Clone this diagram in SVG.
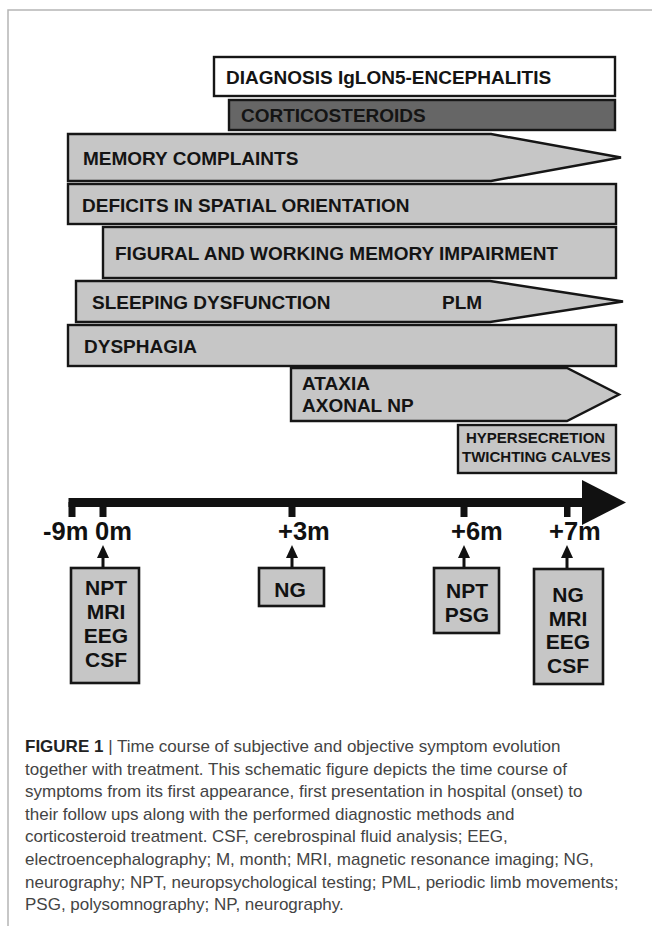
<svg xmlns="http://www.w3.org/2000/svg" width="652" height="926" viewBox="0 0 652 926">
<defs>
<style>
.bar{fill:#c6c6c6;stroke:#161616;stroke-width:2.4}
.lbl{font-family:"Liberation Sans",Arial,sans-serif;font-weight:bold;font-size:19px;fill:#141414}
.sm{font-family:"Liberation Sans",Arial,sans-serif;font-weight:bold;font-size:15px;fill:#141414}
.tl{font-family:"Liberation Sans",Arial,sans-serif;font-weight:bold;font-size:25.5px;fill:#111}
.box{fill:#c6c6c6;stroke:#161616;stroke-width:2.6}
.bt{font-family:"Liberation Sans",Arial,sans-serif;font-weight:bold;font-size:21px;fill:#111;text-anchor:middle}
.cap{font-family:"Liberation Sans",Arial,sans-serif;font-size:17px;fill:#444}
.tick{fill:#111}
</style>
<marker id="ah" viewBox="0 0 13 12" refX="8" refY="6" markerWidth="13" markerHeight="12" orient="auto" markerUnits="userSpaceOnUse">
<path d="M0,0 L13,6 L0,12 z" fill="#111"/>
</marker>
</defs>
<rect width="652" height="926" fill="#fff"/>
<path d="M8,926 V10 H652" fill="none" stroke="#b5b5b5" stroke-width="1.5"/>

<g id="diagnosis"><rect x="214" y="57" width="401" height="39" fill="#fff" stroke="#161616" stroke-width="2.4"/><text class="lbl" x="226" y="83.5">DIAGNOSIS IgLON5-ENCEPHALITIS</text></g>
<g id="corticosteroids"><rect x="229" y="100" width="386" height="30" fill="#666" stroke="#161616" stroke-width="2.4"/><text class="lbl" x="241" y="122">CORTICOSTEROIDS</text></g>
<g id="memory"><polygon class="bar" points="68,134 491,134 621,157.5 491,181 68,181"/><text class="lbl" x="83" y="165">MEMORY COMPLAINTS</text></g>
<g id="spatial"><rect class="bar" x="68" y="184" width="548" height="40"/><text class="lbl" x="82" y="212">DEFICITS IN SPATIAL ORIENTATION</text></g>
<g id="figural"><rect class="bar" x="103" y="227" width="513" height="51"/><text class="lbl" x="115" y="260">FIGURAL AND WORKING MEMORY IMPAIRMENT</text></g>
<g id="sleeping"><polygon class="bar" points="76,281 490,281 623,301.5 490,322 76,322"/><text class="lbl" x="92" y="309">SLEEPING DYSFUNCTION</text><text class="lbl" x="442" y="309">PLM</text></g>
<g id="dysphagia"><rect class="bar" x="68" y="325" width="548" height="41"/><text class="lbl" x="84" y="353">DYSPHAGIA</text></g>
<g id="ataxia"><polygon class="bar" points="291,368 567,368 619,394.5 567,421 291,421"/><text class="lbl" x="302" y="390">ATAXIA</text><text class="lbl" x="302" y="412">AXONAL NP</text></g>
<g id="hypersecretion"><rect class="bar" x="458" y="425" width="158" height="48"/><text class="sm" x="466" y="443">HYPERSECRETION</text><text class="sm" x="462" y="462">TWICHTING CALVES</text></g>

<g id="timeline">
<rect x="68.5" y="498" width="515" height="9" fill="#111"/>
<polygon points="582,480 626,502.5 582,525" fill="#111"/>
<rect class="tick" x="68.5" y="502" width="7" height="15"/>
<rect class="tick" x="99.5" y="502" width="7" height="15"/>
<rect class="tick" x="288.5" y="502" width="7" height="15"/>
<rect class="tick" x="460.5" y="502" width="7" height="15"/>
<rect class="tick" x="564" y="502" width="6.5" height="15"/>
<text class="tl" x="43" y="540">-9m</text>
<text class="tl" x="95" y="540">0m</text>
<text class="tl" x="278" y="540">+3m</text>
<text class="tl" x="451" y="540">+6m</text>
<text class="tl" x="549" y="540">+7m</text>
</g>

<g id="connectors" stroke="#111" stroke-width="3" fill="none">
<line x1="103" y1="568" x2="103" y2="550" marker-end="url(#ah)"/>
<line x1="292" y1="568" x2="292" y2="550" marker-end="url(#ah)"/>
<line x1="464" y1="568" x2="464" y2="550" marker-end="url(#ah)"/>
<line x1="567" y1="569" x2="567" y2="550" marker-end="url(#ah)"/>
</g>

<g id="box-0m"><rect class="box" x="71" y="568" width="68" height="115"/><text class="bt" x="106" y="595">NPT</text><text class="bt" x="106" y="619">MRI</text><text class="bt" x="106" y="643">EEG</text><text class="bt" x="106" y="667">CSF</text></g>
<g id="box-3m"><rect class="box" x="259" y="568" width="65" height="38"/><text class="bt" x="290" y="597">NG</text></g>
<g id="box-6m"><rect class="box" x="434" y="568" width="65" height="65"/><text class="bt" x="467" y="598">NPT</text><text class="bt" x="467" y="622">PSG</text></g>
<g id="box-7m"><rect class="box" x="534" y="569" width="69" height="115"/><text class="bt" x="568" y="602">NG</text><text class="bt" x="568" y="625.5">MRI</text><text class="bt" x="568" y="649">EEG</text><text class="bt" x="568" y="673">CSF</text></g>

<g id="caption">
<text class="cap" x="25" y="752"><tspan font-weight="bold" fill="#222">FIGURE 1</tspan> | Time course of subjective and objective symptom evolution</text>
<text class="cap" x="25" y="774.6">together with treatment. This schematic figure depicts the time course of</text>
<text class="cap" x="25" y="797.2">symptoms from its first appearance, first presentation in hospital (onset) to</text>
<text class="cap" x="25" y="819.8">their follow ups along with the performed diagnostic methods and</text>
<text class="cap" x="25" y="842.4">corticosteroid treatment. CSF, cerebrospinal fluid analysis; EEG,</text>
<text class="cap" x="25" y="865">electroencephalography; M, month; MRI, magnetic resonance imaging; NG,</text>
<text class="cap" x="25" y="887.6">neurography; NPT, neuropsychological testing; PML, periodic limb movements;</text>
<text class="cap" x="25" y="910.2">PSG, polysomnography; NP, neurography.</text>
</g>
</svg>
